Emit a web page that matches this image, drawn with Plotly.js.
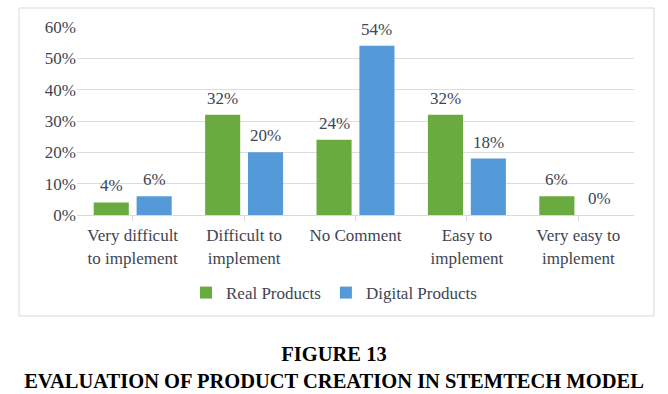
<!DOCTYPE html>
<html>
<head>
<meta charset="utf-8">
<script src="https://cdn.plot.ly/plotly-3.0.1.min.js"></script>
<style>html,body{margin:0;padding:0;background:#fff;}#chart{width:668px;height:394px;}</style>
</head>
<body>
<div id="chart"></div>
<script>
const categories = ["Very difficult<br>to implement", "Difficult to<br>implement", "No Comment", "Easy to<br>implement", "Very easy to<br>implement"];
const realProducts = [4, 32, 24, 32, 6];
const digitalProducts = [6, 20, 54, 18, 0];
const seriesNames = ["Real Products", "Digital Products"];
const yTicks = [0, 10, 20, 30, 40, 50, 60];
const yTickLabels = ["0%", "10%", "20%", "30%", "40%", "50%", "60%"];

const font = "Liberation Serif";
const textColor = "#404552";
const fs = 17;
const barW = 0.315;
const offsets = [-0.35, 0.035];
const colors = ["#6aab3f", "#559ad8"];
const series = [realProducts, digitalProducts];

const xIdx = categories.map((c, i) => i);

const traces = series.map((vals, s) => ({
  type: "bar",
  name: seriesNames[s],
  x: xIdx,
  y: vals,
  width: barW,
  offset: offsets[s],
  marker: {color: colors[s]},
  hoverinfo: "skip"
}));

const annotations = [];
series.forEach((vals, s) => {
  vals.forEach((v, i) => {
    annotations.push({
      x: i + offsets[s] + barW / 2, y: v, xref: "x", yref: "y",
      text: v + "%", showarrow: false, yanchor: "bottom", yshift: 5,
      font: {family: font, size: fs, color: textColor}
    });
  });
});

const layout = {
  width: 668, height: 394,
  margin: {l: 77, r: 34, t: 27, b: 179},
  paper_bgcolor: "#fff", plot_bgcolor: "#fff",
  font: {family: font, size: fs, color: textColor},
  barmode: "group",
  showlegend: true,
  legend: {
    orientation: "h", x: (186 - 77) / 557, xanchor: "left", y: -0.415, yanchor: "middle",
    font: {family: font, size: fs, color: textColor},
    itemwidth: 30
  },
  title: {
    text: "<b>FIGURE 13<br>EVALUATION OF PRODUCT CREATION IN STEMTECH MODEL</b>",
    x: 0.5, xanchor: "center", xref: "container", yref: "container", y: 1 - 361 / 394, yanchor: "top",
    font: {family: font, size: 20.5, color: "#000"}
  },
  xaxis: {
    range: [-0.5, 4.5],
    tickmode: "array", tickvals: xIdx, ticktext: categories,
    tickson: "boundaries", ticks: "outside", ticklen: 5, tickcolor: "#d9d9d9",
    showline: true, linecolor: "#d9d9d9", linewidth: 1,
    showgrid: false, zeroline: false,
    tickfont: {family: font, size: fs, color: textColor}
  },
  yaxis: {
    range: [0, 60], tickmode: "array", tickvals: yTicks, ticktext: yTickLabels,
    showgrid: true, gridcolor: "#d9dde3", gridwidth: 1,
    zeroline: false, showline: false, ticks: "",
    tickfont: {family: font, size: fs, color: textColor}
  },
  annotations: annotations,
  shapes: [{
    type: "rect", xref: "paper", yref: "paper",
    x0: (19 - 77) / 557, x1: (654 - 77) / 557,
    y0: (215 - 316) / 188, y1: (215 - 8) / 188,
    line: {color: "#d9d9d9", width: 1}, fillcolor: "rgba(0,0,0,0)", layer: "below"
  }]
};

Plotly.newPlot("chart", traces, layout, {displayModeBar: false, staticPlot: true});
</script>
</body>
</html>
